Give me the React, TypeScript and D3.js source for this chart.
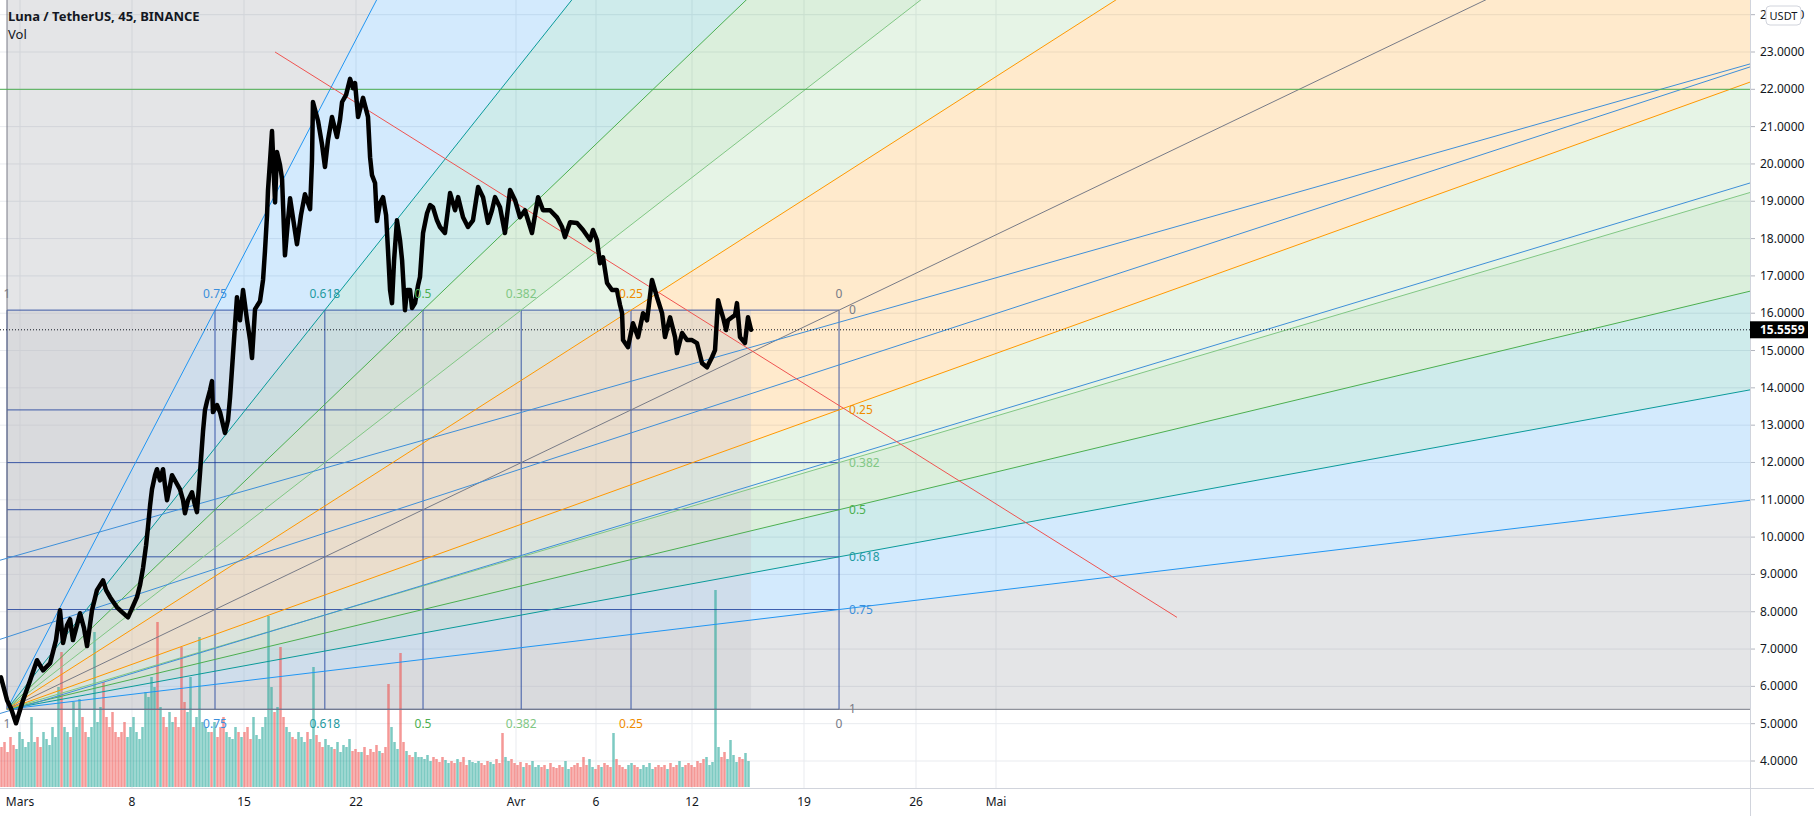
import { useEffect, useRef } from 'react';
import * as d3 from 'd3';

// LUNA/USDT 45m close, sampled: [days since 1 Mar 2021, price]
const lunaClose: [number, number][] = [
  [-1.19, 6.24], [-0.81, 5.63], [-0.56, 5.41], [-0.25, 5.01], [0.19, 5.63], [0.63, 6.16], [1.06, 6.7], [1.44, 6.43], [1.88, 6.62], [2.25, 7.24],
  [2.5, 8.04], [2.69, 7.16], [2.94, 7.64], [3.13, 7.8], [3.31, 7.24], [3.56, 7.64], [3.75, 7.96], [4.0, 7.56], [4.19, 7.08], [4.5, 8.04],
  [4.81, 8.58], [5.19, 8.84], [5.38, 8.58], [5.63, 8.39], [6.06, 8.12], [6.38, 7.99], [6.75, 7.85], [7.06, 8.15], [7.31, 8.39], [7.5, 8.71],
  [7.69, 9.17], [7.88, 9.78], [8.0, 10.27], [8.13, 10.85], [8.25, 11.28], [8.44, 11.66], [8.56, 11.82], [8.75, 11.52], [8.94, 11.82], [9.06, 11.39],
  [9.19, 10.99], [9.38, 11.39], [9.5, 11.66], [9.75, 11.47], [10.0, 11.28], [10.19, 10.99], [10.31, 10.64], [10.5, 10.99], [10.75, 11.2], [10.94, 10.85],
  [11.06, 10.67], [11.25, 11.71], [11.44, 12.84], [11.56, 13.4], [11.69, 13.64], [11.88, 13.94], [12.0, 14.18], [12.06, 13.35], [12.31, 13.54], [12.5, 13.35],
  [12.81, 12.79], [13.0, 13.13], [13.13, 13.75], [13.31, 14.88], [13.56, 16.43], [13.75, 15.81], [13.94, 16.62], [14.19, 15.81], [14.38, 15.28], [14.5, 14.8],
  [14.69, 16.11], [15.0, 16.32], [15.19, 16.89], [15.31, 17.66], [15.44, 18.63], [15.5, 19.3], [15.63, 20.1], [15.75, 20.88], [15.94, 18.97], [16.06, 20.32],
  [16.25, 19.97], [16.38, 19.59], [16.56, 17.55], [16.75, 18.49], [16.88, 19.08], [17.13, 18.36], [17.31, 17.85], [17.56, 18.63], [17.81, 19.19], [18.13, 18.79],
  [18.25, 20.1], [18.31, 21.66], [18.63, 21.15], [18.88, 20.51], [19.06, 19.92], [19.25, 20.64], [19.5, 21.26], [19.81, 20.72], [20.0, 21.18], [20.13, 21.66],
  [20.38, 21.85], [20.63, 22.28], [20.81, 22.03], [20.94, 22.17], [21.13, 21.26], [21.44, 21.77], [21.75, 21.26], [21.88, 20.18], [22.0, 19.7], [22.19, 19.49],
  [22.31, 18.47], [22.5, 18.95], [22.69, 19.11], [22.88, 18.63], [23.0, 17.69], [23.13, 16.62], [23.25, 16.27], [23.38, 17.42], [23.56, 18.49], [23.75, 17.96],
  [23.88, 17.42], [24.06, 16.08], [24.19, 16.62], [24.38, 16.62], [24.5, 16.14], [24.69, 16.27], [24.88, 16.75], [25.0, 16.97], [25.19, 18.15], [25.44, 18.68],
  [25.63, 18.9], [25.81, 18.84], [26.06, 18.49], [26.25, 18.31], [26.56, 18.15], [26.88, 19.22], [27.19, 18.76], [27.38, 19.11], [27.69, 18.57], [28.0, 18.31],
  [28.31, 18.49], [28.63, 19.38], [28.94, 19.11], [29.25, 18.42], [29.5, 18.76], [29.69, 19.11], [30.0, 18.84], [30.31, 18.15], [30.63, 19.3], [30.94, 19.03],
  [31.25, 18.57], [31.56, 18.76], [32.0, 18.15], [32.38, 19.11], [32.69, 18.76], [33.13, 18.76], [33.56, 18.57], [33.88, 18.31], [34.06, 18.04], [34.38, 18.44],
  [34.81, 18.42], [35.19, 18.23], [35.63, 17.96], [35.81, 18.23], [36.06, 17.96], [36.25, 17.34], [36.44, 17.5], [36.69, 16.81], [37.0, 16.62], [37.31, 16.62],
  [37.5, 16.22], [37.63, 16.0], [37.69, 15.28], [38.0, 15.09], [38.31, 15.73], [38.63, 15.36], [38.94, 16.0], [39.19, 15.81], [39.38, 16.48], [39.5, 16.89],
  [39.81, 16.43], [40.13, 16.0], [40.31, 15.36], [40.63, 15.89], [40.94, 15.36], [41.06, 14.93], [41.38, 15.47], [41.69, 15.28], [42.0, 15.28], [42.31, 15.2],
  [42.63, 14.66], [42.94, 14.55], [43.25, 14.82], [43.44, 15.01], [43.63, 16.35], [43.75, 16.16], [43.94, 15.89], [44.13, 15.55], [44.25, 15.81], [44.5, 15.89],
  [44.69, 15.95], [44.81, 16.27], [45.0, 15.36], [45.31, 15.2], [45.5, 15.89], [45.69, 15.5559],
];

// volume (k LUNA), one bucket per 4.5 hours starting 27 Feb 18:00
const volStartDay = -1.25;
const volStepDays = 0.1875;
const volumes = [
  40, 45, 35, 50, 42, 38, 55, 48, 40, 45,
  70, 45, 50, 40, 55, 48, 42, 60, 50, 100,
  135, 60, 55, 50, 85, 60, 88, 70, 55, 50,
  60, 155, 65, 80, 105, 70, 60, 75, 55, 50,
  55, 65, 50, 60, 70, 55, 48, 60, 95, 90,
  110, 100, 165, 80, 70, 60, 75, 65, 70, 60,
  140, 85, 75, 110, 60, 70, 150, 65, 60, 55,
  55, 65, 50, 60, 70, 55, 50, 48, 60, 55,
  50, 55, 60, 48, 70, 52, 48, 60, 70, 171,
  100, 75, 80, 140, 70, 60, 55, 50, 48, 55,
  50, 45, 55, 48, 120, 52, 45, 40, 48, 42,
  40, 38, 45, 35, 42, 40, 48, 36, 38, 35,
  35, 40, 32, 38, 35, 42, 36, 34, 40, 103,
  60, 45, 38, 134, 45, 36, 32, 30, 35, 30,
  30, 28, 32, 26, 30, 28, 25, 30, 27, 24,
  26, 24, 28, 25, 30, 22, 27, 25, 24, 26,
  24, 22, 26, 25, 23, 28, 24, 54, 30, 26,
  28, 24, 22, 25, 20, 24, 22, 26, 20, 22,
  20, 22, 18, 24, 20, 19, 22, 20, 26, 18,
  20, 22, 24, 20, 30, 22, 28, 20, 18, 22,
  20, 24, 22, 20, 54, 28, 22, 20, 18, 22,
  24, 22, 20, 18, 22, 20, 24, 18, 20, 22,
  20, 22, 18, 24, 20, 22, 26, 20, 22, 24,
  22, 20, 26, 24, 28, 30, 22, 25, 197, 40,
  30, 35, 28, 47, 32, 25, 30, 28, 34, 26,
];

const lastPrice = 15.5559;

// Fib speed resistance fan anchors [day, price]
const fanStart: [number, number] = [-0.8125, 5.385];
const fanEnd: [number, number] = [51.19, 16.083];
const fanLevels = [1, 0.75, 0.618, 0.5, 0.382, 0.25, 0];
const fanLabels = ['1', '0.75', '0.618', '0.5', '0.382', '0.25', '0'];
const fanColors = ['#787b86', '#2196f3', '#0a9a9a', '#4caf50', '#81c784', '#ff9800', '#787b86'];
const fanTextColors = ['#787b86', '#3b8fdc', '#1e9aa0', '#4caf50', '#81c784', '#f08c00', '#787b86'];

// extended trend lines [day, price] -> [day, price]
const blueRays: [number, number][][] = [
  [[-1.25, 9.38], [108.125, 22.68]],
  [[-1.25, 7.26], [108.125, 22.6]],
  [[-0.81, 5.33], [108.125, 19.49]],
];
const redSegment: [number, number][] = [[15.94, 23.0], [72.31, 7.85]];
const greenLevel = 22.0;

const priceTicks = d3.range(4, 25);
const dateTickDays = [0, 7, 14, 21, 31, 36, 42, 49, 56, 61];
const dateTickLabels = ['Mars', '8', '15', '22', 'Avr', '6', '12', '19', '26', 'Mai'];

const W = 1814;
const H = 816;
const PANE_W = 1750;
const PANE_H = 788;
const FONT = '"Noto Sans", "Open Sans", sans-serif';

const dayToDate = (d: number) => new Date(Date.UTC(2021, 2, 1) + d * 86400000);

export default function App() {
  const ref = useRef<SVGSVGElement | null>(null);

  useEffect(() => {
    document.body.style.margin = '0';
    if (!ref.current) return;
    const svg = d3.select(ref.current);
    svg.selectAll('*').remove();

    const x = d3.scaleUtc().domain([dayToDate(0), dayToDate(61)]).range([20, 996]);
    const y = d3.scaleLinear().domain([4, 23]).range([761, 52]);
    const px = (d: number) => x(dayToDate(d));
    const vol = d3.scaleLinear().domain([0, 200]).range([PANE_H - 1, PANE_H - 201]);
    const priceAt = d3.scaleLinear()
      .domain(lunaClose.map((d) => d[0]))
      .range(lunaClose.map((d) => d[1]))
      .clamp(true);

    svg.append('rect').attr('width', W).attr('height', H).attr('fill', '#fff');
    svg.append('defs').append('clipPath').attr('id', 'pane')
      .append('rect').attr('width', PANE_W).attr('height', PANE_H);
    const pane = svg.append('g').attr('clip-path', 'url(#pane)');

    // grid
    priceTicks.forEach((v) => {
      pane.append('line').attr('x1', 0).attr('x2', PANE_W).attr('y1', y(v)).attr('y2', y(v))
        .attr('stroke', '#e9ebef').attr('stroke-width', 1);
    });
    dateTickDays.forEach((d) => {
      pane.append('line').attr('x1', px(d)).attr('x2', px(d)).attr('y1', 0).attr('y2', PANE_H)
        .attr('stroke', '#e9ebef').attr('stroke-width', 1);
    });

    // fan geometry
    const ax = px(fanStart[0]);
    const ay = y(fanStart[1]);
    const bx = px(fanEnd[0]);
    const by = y(fanEnd[1]);
    const rightPt = (l: number): [number, number] => [bx, by + l * (ay - by)];
    const topPt = (l: number): [number, number] => [ax + (1 - l) * (bx - ax), by];
    const far = (p: [number, number]): [number, number] => [ax + (p[0] - ax) * 60, ay + (p[1] - ay) * 60];
    const poly = (pts: [number, number][]) => 'M' + pts.map((p) => p.join(',')).join('L') + 'Z';

    for (let i = 0; i < fanLevels.length - 1; i++) {
      const c = d3.color(fanColors[i])!;
      c.opacity = 0.2;
      const a = fanLevels[i];
      const b = fanLevels[i + 1];
      pane.append('path').attr('d', poly([[ax, ay], far(rightPt(a)), far(rightPt(b))]))
        .attr('fill', c.toString());
      pane.append('path').attr('d', poly([[ax, ay], far(topPt(a)), far(topPt(b))]))
        .attr('fill', c.toString());
    }

    // shaded range from fan start to last bar
    const lastDay = lunaClose[lunaClose.length - 1][0];
    pane.append('rect')
      .attr('x', ax).attr('y', by)
      .attr('width', px(lastDay) - ax).attr('height', ay - by)
      .attr('fill', 'rgba(200,200,206,0.38)');

    // volume
    volumes.forEach((v, i) => {
      const d0 = volStartDay + i * volStepDays;
      const up = priceAt(d0 + volStepDays) >= priceAt(d0);
      pane.append('rect')
        .attr('x', px(d0 + volStepDays / 2) - 1.25)
        .attr('width', 2.5)
        .attr('y', vol(v))
        .attr('height', vol(0) - vol(v))
        .attr('fill', up ? 'rgba(38,166,154,0.6)' : 'rgba(239,83,80,0.6)');
    });

    // fan box grid
    fanLevels.forEach((l) => {
      const [, ly] = rightPt(l);
      const [lx] = topPt(l);
      pane.append('line').attr('x1', ax).attr('x2', bx).attr('y1', ly).attr('y2', ly)
        .attr('stroke', 'rgba(21,56,153,0.8)').attr('stroke-width', 1);
      pane.append('line').attr('x1', lx).attr('x2', lx).attr('y1', by).attr('y2', ay)
        .attr('stroke', 'rgba(21,56,153,0.8)').attr('stroke-width', 1);
    });

    // fan rays
    fanLevels.forEach((l, i) => {
      const ends = l === 0 ? [far(rightPt(0))] : [far(rightPt(l)), far(topPt(l))];
      ends.forEach((e) => {
        pane.append('line').attr('x1', ax).attr('y1', ay).attr('x2', e[0]).attr('y2', e[1])
          .attr('stroke', fanColors[i]).attr('stroke-width', 1);
      });
    });

    // trend lines
    blueRays.forEach(([p, q]) => {
      const x1 = px(p[0]), y1 = y(p[1]), x2 = px(q[0]), y2 = y(q[1]);
      const k = 20;
      pane.append('line')
        .attr('x1', x1 - (x2 - x1) * k).attr('y1', y1 - (y2 - y1) * k)
        .attr('x2', x2 + (x2 - x1) * k).attr('y2', y2 + (y2 - y1) * k)
        .attr('stroke', '#3f8fd8').attr('stroke-width', 1);
    });
    pane.append('line').attr('x1', 0).attr('x2', PANE_W).attr('y1', y(greenLevel)).attr('y2', y(greenLevel))
      .attr('stroke', '#4caf50').attr('stroke-width', 1);
    pane.append('line')
      .attr('x1', px(redSegment[0][0])).attr('y1', y(redSegment[0][1]))
      .attr('x2', px(redSegment[1][0])).attr('y2', y(redSegment[1][1]))
      .attr('stroke', '#ef5350').attr('stroke-width', 1);

    // last price dotted line
    pane.append('line').attr('x1', 0).attr('x2', PANE_W).attr('y1', y(lastPrice)).attr('y2', y(lastPrice))
      .attr('stroke', '#131722').attr('stroke-width', 1).attr('stroke-dasharray', '1 2');

    // price line
    const line = d3.line<[number, number]>().x((d) => px(d[0])).y((d) => y(d[1]));
    pane.append('path').attr('d', line(lunaClose)!)
      .attr('fill', 'none').attr('stroke', '#000').attr('stroke-width', 4.5)
      .attr('stroke-linejoin', 'round').attr('stroke-linecap', 'round');

    // fan labels
    const labels = pane.append('g').attr('font-family', FONT).attr('font-size', 12);
    fanLevels.forEach((l, i) => {
      const [lx] = topPt(l);
      const [, ly] = rightPt(l);
      labels.append('text').attr('x', lx).attr('y', by - 12).attr('text-anchor', 'middle')
        .attr('fill', fanTextColors[i]).text(fanLabels[i]);
      labels.append('text').attr('x', lx).attr('y', ay + 19).attr('text-anchor', 'middle')
        .attr('fill', fanTextColors[i]).text(fanLabels[i]);
      labels.append('text').attr('x', bx + 10).attr('y', ly + 4)
        .attr('fill', fanTextColors[i]).text(fanLabels[i]);
    });

    // legend
    svg.append('text').attr('x', 8).attr('y', 21).attr('font-family', FONT).attr('font-size', 13)
      .attr('font-weight', 700).attr('fill', '#131722').text('Luna / TetherUS, 45, BINANCE');
    svg.append('text').attr('x', 8).attr('y', 39).attr('font-family', FONT).attr('font-size', 13)
      .attr('fill', '#131722').text('Vol');

    // axes frame
    svg.append('line').attr('x1', PANE_W + 0.5).attr('x2', PANE_W + 0.5).attr('y1', 0).attr('y2', H)
      .attr('stroke', '#d1d4dc');
    svg.append('line').attr('x1', 0).attr('x2', W).attr('y1', PANE_H + 0.5).attr('y2', PANE_H + 0.5)
      .attr('stroke', '#d1d4dc');

    const yAxis = svg.append('g').attr('font-family', FONT).attr('font-size', 12).attr('fill', '#131722');
    priceTicks.forEach((v) => {
      yAxis.append('line').attr('x1', PANE_W + 1).attr('x2', PANE_W + 5).attr('y1', y(v)).attr('y2', y(v))
        .attr('stroke', '#b2b5be');
      yAxis.append('text').attr('x', PANE_W + 10).attr('y', y(v) + 4).text(d3.format('.4f')(v));
    });

    // currency badge
    svg.append('rect').attr('x', 1766).attr('y', 6).attr('width', 35).attr('height', 19).attr('rx', 4)
      .attr('fill', '#fff').attr('stroke', '#d1d4dc');
    svg.append('text').attr('x', 1783.5).attr('y', 20).attr('text-anchor', 'middle')
      .attr('font-family', FONT).attr('font-size', 11).attr('fill', '#131722').text('USDT');

    // last price tag
    svg.append('rect').attr('x', PANE_W).attr('y', y(lastPrice) - 8.5).attr('width', 58).attr('height', 17)
      .attr('fill', '#000');
    svg.append('text').attr('x', PANE_W + 10).attr('y', y(lastPrice) + 4.5)
      .attr('font-family', FONT).attr('font-size', 12).attr('font-weight', 700).attr('fill', '#fff')
      .text(d3.format('.4f')(lastPrice));

    const xAxis = svg.append('g').attr('font-family', FONT).attr('font-size', 12).attr('fill', '#131722');
    dateTickDays.forEach((d, i) => {
      xAxis.append('text').attr('x', px(d)).attr('y', 806).attr('text-anchor', 'middle').text(dateTickLabels[i]);
    });
  }, []);

  return (
    <svg ref={ref} width={W} height={H} style={{ position: 'absolute', left: 0, top: 0, display: 'block' }}></svg>
  );
}
